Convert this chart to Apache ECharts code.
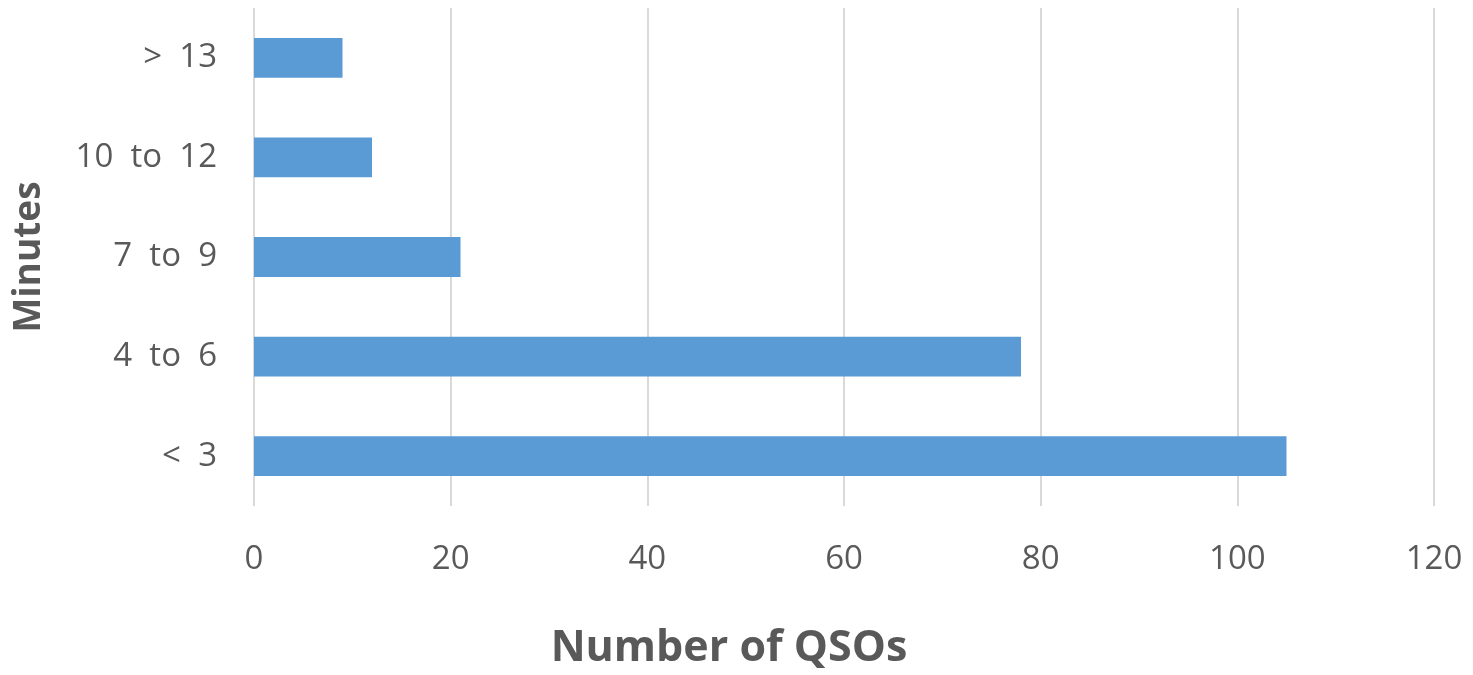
<!DOCTYPE html>
<html>
<head>
<meta charset="utf-8">
<script src="https://cdn.jsdelivr.net/npm/echarts@6/dist/echarts.min.js"></script>
<style>
    html, body { margin: 0; padding: 0; background: #fff; }
    #chart { width: 1473px; height: 675px; }
</style>
</head>
<body>
<div id="chart"></div>
<script>
    // categories, bottom to top
    const categories = ['< 3', '4 to 6', '7 to 9', '10 to 12', '> 13']
    const qsoCounts = [105, 78, 21, 12, 9]
    const xTicks = [0, 20, 40, 60, 80, 100, 120]

    const textColor = '#595959'
    const font = '"Open Sans", "DejaVu Sans", sans-serif'

    const chart = echarts.init(document.getElementById('chart'))
    chart.setOption({
        animation: false,
        grid: {
            left: 254,
            right: 39,
            top: 8,
            bottom: 167,
            containLabel: false
        },
        xAxis: {
            type: 'value',
            min: xTicks[0],
            max: xTicks[xTicks.length - 1],
            interval: 20,
            name: 'Number of QSOs',
            nameLocation: 'middle',
            nameGap: 121,
            nameTextStyle: {
                color: textColor,
                fontSize: 43,
                fontWeight: 'bold',
                fontFamily: font,
                // title sits left of the plot centre in the original
                padding: [0, 230, 0, 0]
            },
            axisLine: { show: false },
            axisTick: { show: false },
            axisLabel: {
                color: textColor,
                fontSize: 33,
                fontFamily: font,
                margin: 37
            },
            splitLine: {
                lineStyle: { color: '#d9d9d9', width: 2 }
            }
        },
        yAxis: {
            type: 'category',
            data: categories,
            name: 'Minutes',
            nameLocation: 'middle',
            nameGap: 206,
            nameTextStyle: {
                color: textColor,
                fontSize: 37,
                fontWeight: 'bold',
                fontFamily: font
            },
            axisLine: { show: false },
            axisTick: { show: false },
            axisLabel: {
                color: textColor,
                fontSize: 33,
                fontFamily: font,
                margin: 37,
                padding: [5, 0, 0, 0],
                formatter: v => v.replace(/ /g, '  ')
            }
        },
        series: [{
            type: 'bar',
            data: qsoCounts,
            barCategoryGap: '60%',
            itemStyle: { color: '#5b9bd5' }
        }]
    })
</script>
</body>
</html>
